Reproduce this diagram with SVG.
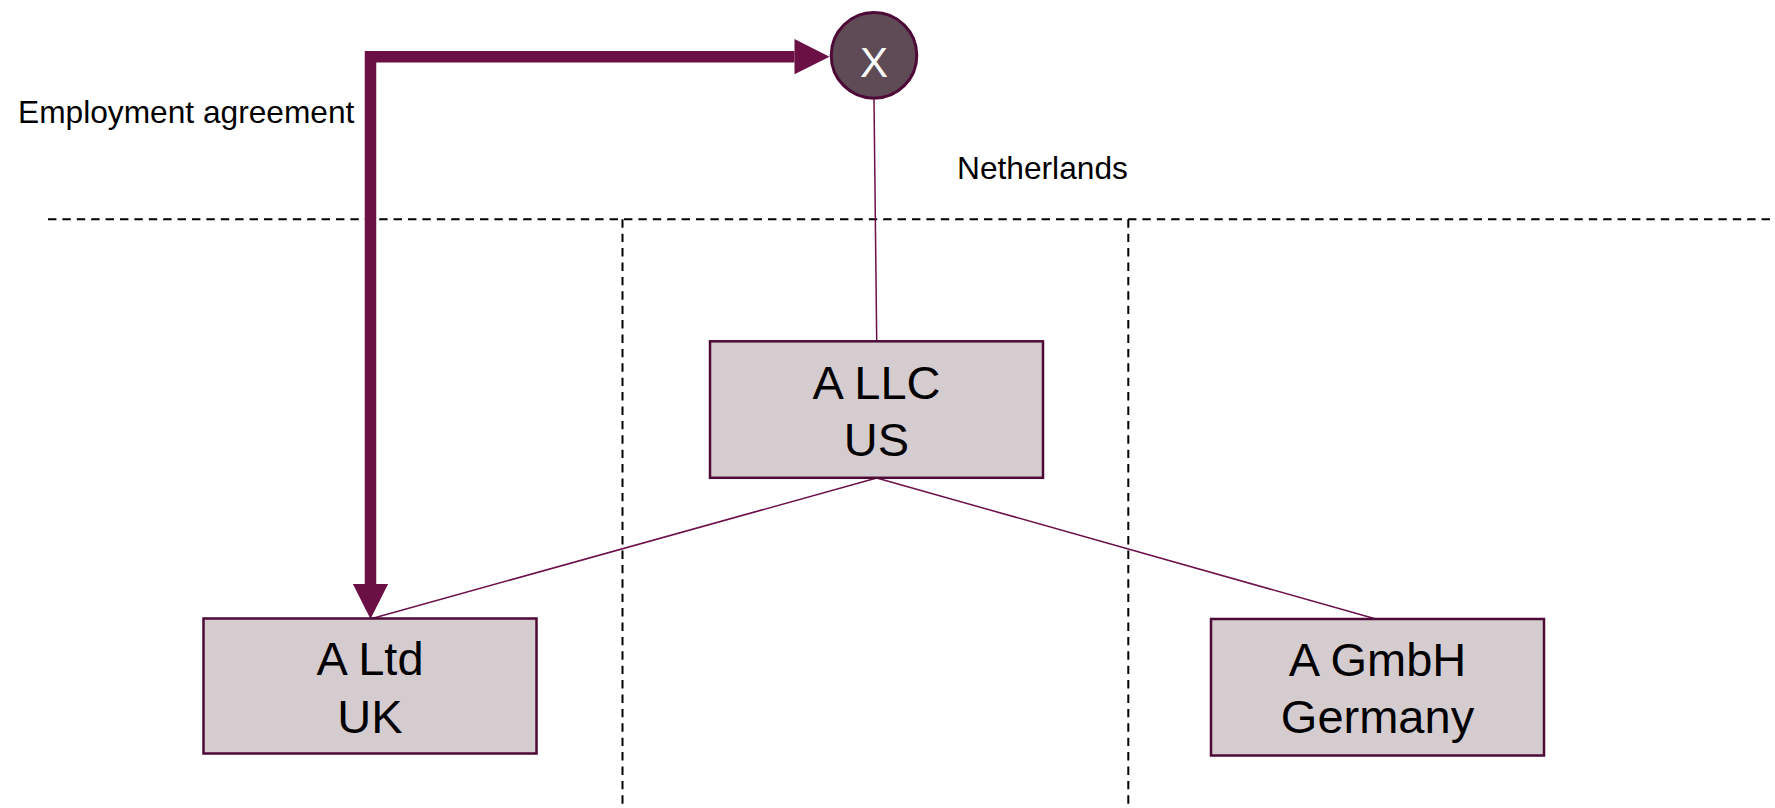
<svg xmlns="http://www.w3.org/2000/svg" width="1775" height="808" viewBox="0 0 1775 808">
  <style>
    .bg { fill: #ffffff; }
    .grid { fill: none; stroke: #000000; stroke-width: 2; stroke-dasharray: 8.4 6; }
    .entity rect { fill: #d5ccd0; stroke: #4d0a36; stroke-width: 2.5; }
    .entity text { font-family: "Liberation Sans", Arial, sans-serif; font-size: 47px; fill: #000000; text-anchor: middle; }
    .label { font-family: "Liberation Sans", Arial, sans-serif; font-size: 31.7px; fill: #000000; }
    .link { fill: none; stroke: #6b1048; stroke-width: 1.5; }
    .agreement { fill: none; stroke: #6a1045; stroke-width: 11.5; stroke-linejoin: miter; }
  </style>
  <defs>
    <marker id="head" markerUnits="userSpaceOnUse" markerWidth="40" markerHeight="40" refX="0" refY="17.6" orient="auto-start-reverse" overflow="visible">
      <path d="M0,0 L35,17.6 L0,35.2 Z" fill="#6a1045"/>
    </marker>
  </defs>

  <rect class="bg" x="0" y="0" width="1775" height="808"/>

  <!-- jurisdiction boundaries -->
  <g id="boundaries">
    <line class="grid" x1="48" y1="219.3" x2="1775" y2="219.3"/>
    <line class="grid" x1="622.5" y1="219.3" x2="622.5" y2="808"/>
    <line class="grid" x1="1128.3" y1="219.3" x2="1128.3" y2="808"/>
  </g>

  <!-- connectors -->
  <g id="connectors">
    <line class="link" x1="874" y1="99.5" x2="876.7" y2="341"/>
    <line class="link" x1="876.7" y1="478" x2="372" y2="618.5"/>
    <line class="link" x1="876.7" y1="478" x2="1376" y2="619"/>
    <path class="agreement" d="M370.5,584 V56.7 H794.5" marker-start="url(#head)" marker-end="url(#head)"/>
  </g>

  <!-- labels -->
  <g id="labels">
    <text class="label" x="18" y="122.7">Employment agreement</text>
    <text class="label" x="957" y="179">Netherlands</text>
  </g>

  <g id="person-x">
    <circle cx="874" cy="55.4" r="42.8" fill="#5f4b56" stroke="#4d0a36" stroke-width="3"/>
    <text x="874" y="77.3" font-family="Liberation Sans, Arial, sans-serif" font-size="42px" fill="#ffffff" text-anchor="middle">X</text>
  </g>

  <g id="a-llc" class="entity">
    <rect x="710" y="341.3" width="333" height="136.5"/>
    <text x="876.5" y="399.3">A LLC</text>
    <text x="876.5" y="456">US</text>
  </g>

  <g id="a-ltd" class="entity">
    <rect x="203.5" y="618.5" width="333" height="135"/>
    <text x="370" y="675">A Ltd</text>
    <text x="370" y="733.3">UK</text>
  </g>

  <g id="a-gmbh" class="entity">
    <rect x="1211" y="619" width="333" height="136.5"/>
    <text x="1377.5" y="675.7">A GmbH</text>
    <text x="1377.5" y="733.3">Germany</text>
  </g>
</svg>
